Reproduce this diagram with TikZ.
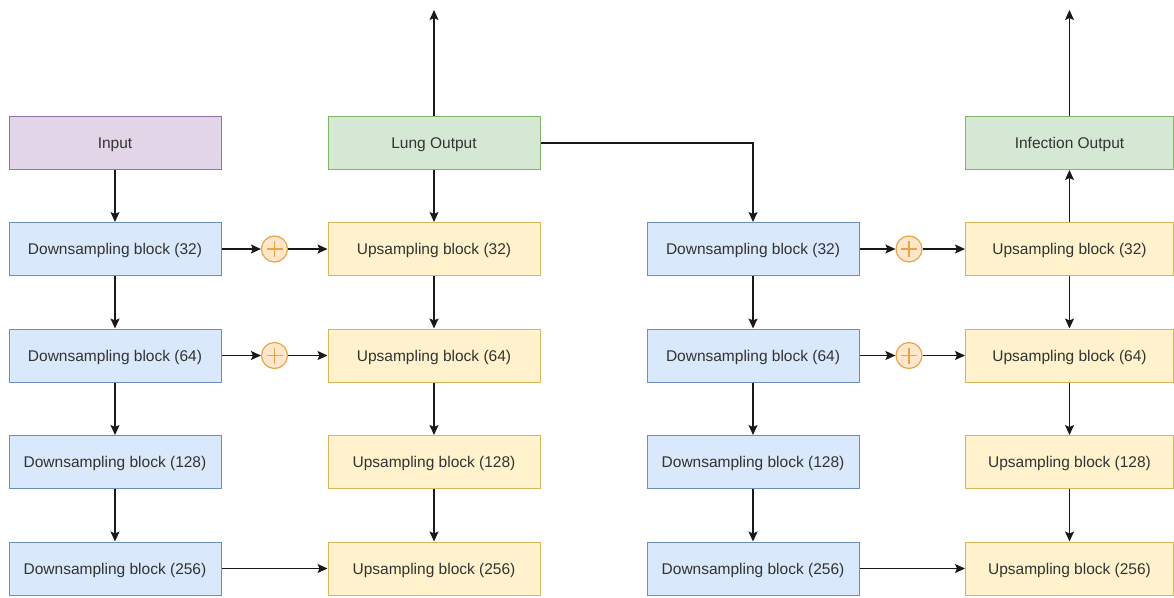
\documentclass[tikz,border=0pt]{standalone}
\usepackage{fontspec}
\setmainfont{Liberation Sans}
\usetikzlibrary{arrows.meta}
\definecolor{bluefill}{HTML}{DAE8FC}
\definecolor{bluedraw}{HTML}{6C8EBF}
\definecolor{yelfill}{HTML}{FFF2CC}
\definecolor{yeldraw}{HTML}{D6B656}
\definecolor{grnfill}{HTML}{D5E8D4}
\definecolor{grndraw}{HTML}{82B366}
\definecolor{purfill}{HTML}{E1D5E7}
\definecolor{purdraw}{HTML}{9673A6}
\definecolor{orafill}{HTML}{FFE6CC}
\definecolor{oradraw}{HTML}{E8A63C}
\definecolor{txt}{HTML}{333333}
\tikzset{
  blk/.style={draw, line width=1pt, minimum width=212pt, minimum height=53pt,
    inner sep=0pt, text height=11pt, text depth=0pt, text=txt,
    font=\fontsize{15.5}{18}\selectfont},
  down/.style={blk, fill=bluefill, draw=bluedraw},
  up/.style={blk, fill=yelfill, draw=yeldraw},
  outbox/.style={blk, fill=grnfill, draw=grndraw},
  inbox/.style={blk, fill=purfill, draw=purdraw},
  narrow/.style={minimum width=208pt},
  plus/.style={circle, draw=oradraw, fill=orafill, line width=1.2pt,
    minimum size=26pt, inner sep=0pt,
    path picture={
      \draw[oradraw, line width=1.1pt]
        ([xshift=-8pt]path picture bounding box.center) -- ([xshift=8pt]path picture bounding box.center)
        ([yshift=-8pt]path picture bounding box.center) -- ([yshift=8pt]path picture bounding box.center);
    }},
  conn/.style={draw=black!90, line width=1.3pt,
    -{Stealth[length=10pt,width=9pt,inset=2pt]}},
}
\begin{document}
\begin{tikzpicture}[x=1pt,y=-1pt]
\useasboundingbox (0,0) rectangle (1174,597);

% first network
\node[inbox]  (in)   at (115,143)   {Input};
\node[down]   (d1)   at (115,249)   {Downsampling block (32)};
\node[down]   (d2)   at (115,355.5) {Downsampling block (64)};
\node[down]   (d3)   at (115,462)   {Downsampling block (128)};
\node[down]   (d4)   at (115,568.5) {Downsampling block (256)};
\node[outbox] (lung) at (434,143)   {Lung Output};
\node[up]     (u1)   at (434,249)   {Upsampling block (32)};
\node[up]     (u2)   at (434,355.5) {Upsampling block (64)};
\node[up]     (u3)   at (434,462)   {Upsampling block (128)};
\node[up]     (u4)   at (434,568.5) {Upsampling block (256)};
\node[plus]   (p1)   at (274.5,249)   {};
\node[plus]   (p2)   at (274.5,355.5) {};
\coordinate   (lungtop) at (434,10);

% second network
\node[down]   (e1)   at (753,249)   {Downsampling block (32)};
\node[down]   (e2)   at (753,355.5) {Downsampling block (64)};
\node[down]   (e3)   at (753,462)   {Downsampling block (128)};
\node[down]   (e4)   at (753,568.5) {Downsampling block (256)};
\node[outbox,narrow] (inf) at (1069.5,143)   {Infection Output};
\node[up,narrow]     (v1)  at (1069.5,249)   {Upsampling block (32)};
\node[up,narrow]     (v2)  at (1069.5,355.5) {Upsampling block (64)};
\node[up,narrow]     (v3)  at (1069.5,462)   {Upsampling block (128)};
\node[up,narrow]     (v4)  at (1069.5,568.5) {Upsampling block (256)};
\node[plus]   (q1)   at (909,249)   {};
\node[plus]   (q2)   at (909,355.5) {};
\coordinate   (inftop) at (1069.5,10);

% encoder chain, first network
\draw[conn] (in) -- (d1);
\draw[conn] (d1) -- (d2);
\draw[conn] (d2) -- (d3);
\draw[conn] (d3) -- (d4);
% decoder chain, first network
\draw[conn] (lung) -- (u1);
\draw[conn] (u1) -- (u2);
\draw[conn] (u2) -- (u3);
\draw[conn] (u3) -- (u4);
\draw[conn] (lung) -- (lungtop);
% skip connections, first network
\draw[conn] (d1) -- (p1);
\draw[conn] (p1) -- (u1);
\draw[conn] (d2) -- (p2);
\draw[conn] (p2) -- (u2);
\draw[conn] (d4) -- (u4);

% lung output feeds the second network
\draw[conn] (lung.east) -| (e1.north);

% encoder chain, second network
\draw[conn] (e1) -- (e2);
\draw[conn] (e2) -- (e3);
\draw[conn] (e3) -- (e4);
% decoder chain, second network
\draw[conn] (v1) -- (inf);
\draw[conn] (v1) -- (v2);
\draw[conn] (v2) -- (v3);
\draw[conn] (v3) -- (v4);
\draw[conn] (inf) -- (inftop);
% skip connections, second network
\draw[conn] (e1) -- (q1);
\draw[conn] (q1) -- (v1);
\draw[conn] (e2) -- (q2);
\draw[conn] (q2) -- (v2);
\draw[conn] (e4) -- (v4);
\end{tikzpicture}
\end{document}
